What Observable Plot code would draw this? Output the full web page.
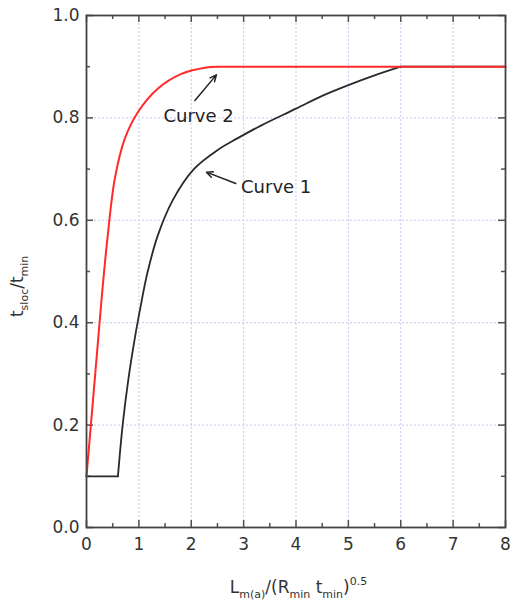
<!DOCTYPE html>
<html>
<head>
<meta charset="utf-8">
<script src="https://cdn.jsdelivr.net/npm/d3@7"></script>
<script src="https://cdn.jsdelivr.net/npm/@observablehq/plot@0.6"></script>
<style>
  html, body { margin: 0; padding: 0; background: #fff; }
  #chart { width: 514px; height: 611px; }
  svg text { font-family: "DejaVu Sans", sans-serif; }
</style>
</head>
<body>
<div id="chart"></div>
<script>
// Curve 1 (black)
const curve1X = [0, 0.6, 0.69, 0.8, 0.94, 1.03, 1.16, 1.36, 1.65, 2.05, 2.5, 2.88, 3.33, 4.0, 4.5, 5.0, 5.5, 6.0, 8.0];
const curve1Y = [0.1, 0.1, 0.2, 0.29, 0.38, 0.43, 0.496, 0.57, 0.64, 0.70, 0.737, 0.76, 0.785, 0.818, 0.843, 0.864, 0.883, 0.9, 0.9];
// Curve 2 (red)
const curve2X = [0, 0.1, 0.2, 0.3, 0.4, 0.54, 0.73, 0.98, 1.36, 1.81, 2.26, 2.5, 8];
const curve2Y = [0.1, 0.22, 0.34, 0.46, 0.565, 0.681, 0.759, 0.811, 0.857, 0.886, 0.898, 0.9, 0.9];

// Annotations
const annLabels = ["Curve 2", "Curve 1"];
const annTextX = [1.47, 2.95];
const annTextY = [0.803, 0.664];
const annFromX = [2.07, 2.85];
const annFromY = [0.834, 0.672];
const annToX = [2.48, 2.29];
const annToY = [0.884, 0.694];

// Ticks
const xMajor = [0, 1, 2, 3, 4, 5, 6, 7, 8];
const xMinor = [0.5, 1.5, 2.5, 3.5, 4.5, 5.5, 6.5, 7.5];
const yMajor = [0, 0.2, 0.4, 0.6, 0.8, 1.0];
const yMinor = [0.1, 0.3, 0.5, 0.7, 0.9];
const xGrid = [1, 2, 3, 4, 5, 6, 7];
const yGrid = [0.2, 0.4, 0.6, 0.8];

const toPts = (xs, ys) => xs.map((x, i) => ({x, y: ys[i]}));
// split curves into the curved part and the straight pieces (sharp corners)
const c1flat0 = toPts(curve1X.slice(0, 2), curve1Y.slice(0, 2));
const c1curve = toPts(curve1X.slice(1, -1), curve1Y.slice(1, -1));
const c1flat1 = toPts(curve1X.slice(-2), curve1Y.slice(-2));
const c2curve = toPts(curve2X.slice(0, -1), curve2Y.slice(0, -1));
const c2flat = toPts(curve2X.slice(-2), curve2Y.slice(-2));
const ann = annLabels.map((t, i) => ({t, tx: annTextX[i], ty: annTextY[i], x1: annFromX[i], y1: annFromY[i], x2: annToX[i], y2: annToY[i]}));

const axisColor = "#444";
const textColor = "#333";
const W = 514, H = 611, mL = 86, mR = 9, mT = 15, mB = 84;
const innerW = W - mL - mR, innerH = H - mT - mB;
const major = 7, minor = 4;
const tk = {stroke: "#505050", strokeWidth: 1.5};

const blackStyle = {x: "x", y: "y", stroke: "#2a2a2a", strokeWidth: 1.8};
const redStyle = {x: "x", y: "y", stroke: "#ff2a2a", strokeWidth: 2};

const plot = Plot.plot({
  width: W,
  height: H,
  marginLeft: mL,
  marginRight: mR,
  marginTop: mT,
  marginBottom: mB,
  style: {fontFamily: "DejaVu Sans, sans-serif", background: "#fff", overflow: "visible"},
  x: {domain: [0, 8]},
  y: {domain: [0, 1]},
  marks: [
    Plot.gridX(xGrid, {stroke: "#c8c8f4", strokeOpacity: 1, strokeDasharray: "2,2", strokeWidth: 1}),
    Plot.gridY(yGrid, {stroke: "#c8c8f4", strokeOpacity: 1, strokeDasharray: "2,2", strokeWidth: 1}),
    // tick labels
    Plot.axisX(xMajor, {anchor: "bottom", tickSize: 0, tickPadding: 10, tickFormat: d3.format("d"), label: null, fontSize: 17, fill: textColor}),
    Plot.axisY(yMajor, {anchor: "left", tickSize: 0, tickPadding: 7, tickFormat: d3.format(".1f"), label: null, fontSize: 17, fill: textColor}),
    // inward ticks on all four sides
    Plot.tickX(xMajor, {x: d => d, insetTop: innerH - major, ...tk}),
    Plot.tickX(xMinor, {x: d => d, insetTop: innerH - minor, ...tk}),
    Plot.tickX(xMajor, {x: d => d, insetBottom: innerH - major, ...tk}),
    Plot.tickX(xMinor, {x: d => d, insetBottom: innerH - minor, ...tk}),
    Plot.tickY(yMajor, {y: d => d, insetRight: innerW - major, ...tk}),
    Plot.tickY(yMinor, {y: d => d, insetRight: innerW - minor, ...tk}),
    Plot.tickY(yMajor, {y: d => d, insetLeft: innerW - major, ...tk}),
    Plot.tickY(yMinor, {y: d => d, insetLeft: innerW - minor, ...tk}),
    // curves
    Plot.line(c1flat0, blackStyle),
    Plot.line(c1curve, {...blackStyle, curve: "catmull-rom"}),
    Plot.line(c1flat1, blackStyle),
    Plot.line(c2curve, {...redStyle, curve: "catmull-rom"}),
    Plot.line(c2flat, redStyle),
    // annotations
    Plot.arrow(ann, {x1: "x1", y1: "y1", x2: "x2", y2: "y2", stroke: "#222", strokeWidth: 1.5, headLength: 7, headAngle: 50}),
    Plot.text(ann, {x: "tx", y: "ty", text: "t", textAnchor: "start", fontSize: 18, fill: "#222"}),
    Plot.frame({stroke: axisColor, strokeWidth: 1.8})
  ]
});

document.getElementById("chart").appendChild(plot);

// Axis titles with subscripts / superscripts
const ns = "http://www.w3.org/2000/svg";
const sx = plot.scale("x"), sy = plot.scale("y");
function richText(parts, attrs, mainSize, subSize) {
  const t = document.createElementNS(ns, "text");
  for (const [k, v] of Object.entries(attrs)) t.setAttribute(k, v);
  t.setAttribute("fill", textColor);
  t.setAttribute("font-size", mainSize);
  let shift = 0;
  for (const [s, kind] of parts) {
    const ts = document.createElementNS(ns, "tspan");
    const target = kind === "sub" ? 5 : kind === "sup" ? -8 : 0;
    ts.setAttribute("dy", target - shift);
    shift = target;
    ts.setAttribute("font-size", kind ? subSize : mainSize);
    ts.textContent = s;
    t.appendChild(ts);
  }
  plot.appendChild(t);
}
richText(
  [["L"], ["m(a)", "sub"], ["/(R"], ["min", "sub"], [" t"], ["min", "sub"], [")"], ["0.5", "sup"]],
  {x: sx.apply(4) + 3, y: 593, "text-anchor": "middle"}, 17, 11
);
richText(
  [["t"], ["sloc", "sub"], ["/t"], ["min", "sub"]],
  {transform: `translate(23,${sy.apply(0.47)}) rotate(-90)`, "text-anchor": "middle"}, 17, 11
);
</script>
</body>
</html>
